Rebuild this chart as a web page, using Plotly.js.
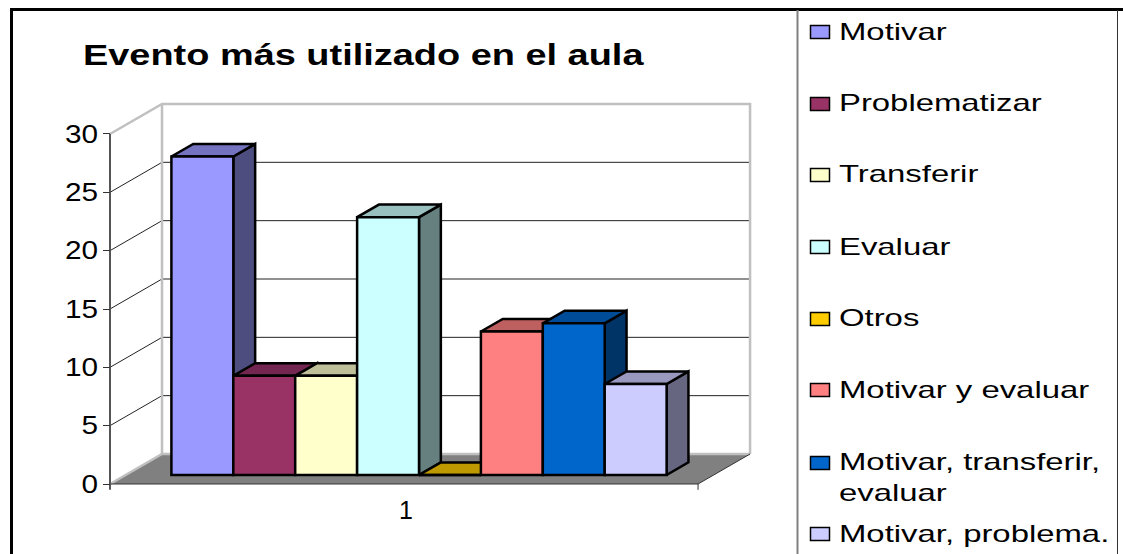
<!DOCTYPE html>
<html><head><meta charset="utf-8">
<script src="https://cdn.plot.ly/plotly-3.0.1.min.js"></script>
<style>
html,body{margin:0;padding:0;background:#fff;overflow:hidden;width:1123px;height:554px}
#chart{width:1123px;height:554px}
</style></head><body><div id="chart"></div>
<script>
const titleText = 'Evento más utilizado en el aula';
const categories = ['Motivar','Problematizar','Transferir','Evaluar','Otros','Motivar y evaluar','Motivar, transferir,<br>evaluar','Motivar, problema.<br>evaluar'];
const values = [27.3, 8.5, 8.5, 22.1, 0, 12.3, 13, 7.8];
const frontColors = ['#9999FF','#993366','#FFFFCC','#CCFFFF','#FFCC00','#FF8080','#0066CC','#CCCCFF'];
const topColors = ['#7373BF','#732650','#BFBF99','#99BFBF','#BF9900','#BF6060','#004C99','#9999BF'];
const sideColors = ['#4D4D80','#4D1A33','#808066','#668080','#806600','#804040','#003366','#666680'];
const yTicks = [0,5,10,15,20,25,30];
const xLabels = ['1'];

const W=1123,H=554;
const slotPx=61.9, unitPx=11.667, originX=110, originY=484;
const xRange=[-originX/slotPx,(W-originX)/slotPx];
const yRange=[(originY-H)/unitPx,originY/unitPx];
const DX=52/slotPx, DY=30/unitPx;
const floorLen=9.5, gap=0.74, d0=0.3, d1=0.72, barEdge=2.5;
const P=(u,v,d)=>[u+d*DX,v+d*DY];
function path(pts,opt){
  const xy=pts.map(p=>p?P(p[0],p[1],p[2]):[null,null]);
  return Object.assign({type:'scatter',mode:'lines',x:xy.map(a=>a[0]),y:xy.map(a=>a[1]),hoverinfo:'skip',showlegend:false},opt);
}
const traces=[];
traces.push(path([[0,0,0],[floorLen,0,0],[floorLen,0,1],[0,0,1],[0,0,0]],{fill:'toself',fillcolor:'#808080',line:{color:'#808080',width:0}}));
const gridPts=[];
yTicks.filter(t=>t>0&&t<30).forEach(t=>{gridPts.push([0,t,0],[0,t,1],[floorLen,t,1],null);});
traces.push(path(gridPts,{line:{color:'#222',width:1}}));
traces.push(path([[0,0,0],[0,0,1],[floorLen,0,1],null,[0,30,0],[0,30,1],[floorLen,30,1],[floorLen,0,1],null,[0,0,1],[0,30,1]],{line:{color:'#C0C0C0',width:2.5}}));
traces.push(path([[0,0,0],[floorLen,0,0],[floorLen,0,1],null,[floorLen,0,0],[floorLen,-0.5,0]],{line:{color:'#333',width:1}}));
traces.push(path([[0,-0.5,0],[0,30,0]],{line:{color:'#555',width:2}}));
values.forEach((v,i)=>{
  const a=gap+i,b=a+1;
  traces.push(path([[b,0,d0],[b,0,d1],[b,v,d1],[b,v,d0],[b,0,d0]],{fill:'toself',fillcolor:sideColors[i],line:{color:'#000',width:barEdge}}));
  traces.push(path([[a,v,d0],[b,v,d0],[b,v,d1],[a,v,d1],[a,v,d0]],{fill:'toself',fillcolor:topColors[i],line:{color:'#000',width:barEdge}}));
});
values.forEach((v,i)=>{
  const a=gap+i;
  traces.push({type:'bar',name:categories[i].replace('<br>',' '),x:[a+0.5+d0*DX],y:[v],base:[d0*DY],width:[1],xaxis:'x2',yaxis:'y2',
    marker:{color:frontColors[i],line:{color:'#000',width:barEdge}},hoverinfo:'skip',showlegend:false});
});

const legendSwatchY=[32,104,175,247,319,390,463,534];
const legendTextY=[31,103,173,246,317,389,477,549];
const shapes=[],annotations=[];
const line=(x0,y0,x1,y1,color,width)=>({type:'line',xref:'paper',yref:'paper',x0:x0/W,x1:x1/W,y0:1-y0/H,y1:1-y1/H,line:{color,width}});
shapes.push(line(11.5,9,11.5,H,'#000',3),line(10,9.5,W,9.5,'#000',3),line(797.5,10,797.5,H,'#808080',2),line(1117.5,10,1117.5,H,'#333',1));
categories.forEach((c,i)=>{
  const yc=legendSwatchY[i];
  shapes.push({type:'rect',xref:'paper',yref:'paper',x0:810.5/W,x1:829.5/W,y0:1-(yc-6.5)/H,y1:1-(yc+6.5)/H,fillcolor:frontColors[i],line:{color:'#000',width:1.5}});
  annotations.push({xref:'paper',yref:'paper',x:840/W,y:1-legendTextY[i]/H,xanchor:'left',yanchor:'middle',align:'left',showarrow:false,xshift:-3,text:c,font:{family:'Liberation Sans',size:24,color:'#000'}});
});

const layout={width:W,height:H,margin:{l:0,r:0,t:0,b:0},paper_bgcolor:'#fff',plot_bgcolor:'rgba(0,0,0,0)',showlegend:false,barmode:'overlay',
  title:{text:'<b>'+titleText+'</b>',x:83/W,xref:'paper',xanchor:'left',y:1-54.5/H,yref:'paper',yanchor:'middle',font:{family:'Liberation Sans',size:29,color:'#000'}},
  xaxis:{range:xRange,anchor:'free',position:(H-originY)/H,domain:[0,1],showgrid:false,zeroline:false,showline:false,ticks:'',tickmode:'array',tickvals:[floorLen/2+0.03],ticktext:xLabels,ticklabelstandoff:9,tickfont:{family:'Liberation Sans',size:25,color:'#000'}},
  yaxis:{range:yRange,anchor:'free',position:originX/W,domain:[0,1],showgrid:false,zeroline:false,showline:false,ticks:'outside',ticklen:7,tickwidth:1,tickcolor:'#333',tickmode:'array',tickvals:yTicks,ticktext:yTicks.map(String),tickfont:{family:'Liberation Sans',size:25,color:'#000'}},
  xaxis2:{range:xRange,overlaying:'x',visible:false,anchor:'y2'},
  yaxis2:{range:yRange,overlaying:'y',visible:false,anchor:'x2'},
  shapes,annotations};

// The reference's text is horizontally stretched; widen the real text the same way.
function stretch(sel,s,right){
  document.querySelectorAll(sel).forEach(t=>{
    const b=t.getBBox(), ox=right?b.x+b.width:b.x, prev=t.getAttribute('transform')||'';
    t.setAttribute('transform',prev+' translate('+ox+',0) scale('+s+',1) translate('+(-ox)+',0)');
  });
}
Plotly.newPlot('chart',traces,layout,{staticPlot:true,displayModeBar:false}).then(()=>{
  stretch('.gtitle',1.308,false);
  stretch('.annotation-text',1.37,false);
  stretch('.ytick text',1.19,true);
});
</script></body></html>
